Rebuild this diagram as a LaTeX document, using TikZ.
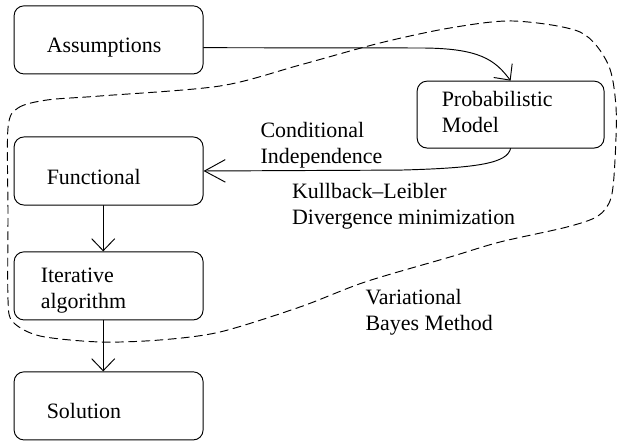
\documentclass[tikz,border=0pt]{standalone}
\usepackage{fontspec}
\setmainfont{Liberation Serif}
\usetikzlibrary{arrows.meta}

\begin{document}
\begin{tikzpicture}[line cap=round,line join=round,
  >={Straight Barb[length=0.4cm,width=0.77cm]},x=1.0cm,y=1.0cm,
  line width=0.9pt,font=\fontsize{20.8}{24.7}\selectfont,
  box/.style={draw,rounded corners=0.33cm,minimum width=6.3cm,
    minimum height=2.27cm,align=left},
  oneline/.style={text height=0.87cm,text depth=0pt},
  lbl/.style={anchor=north west,inner sep=0pt,align=left}]
  \useasboundingbox (0,0) rectangle (20.6,14.7);
  % boxes
  \node[box,oneline,text width=4.12cm] (assump) at (3.62,13.37) {Assumptions};
  \node[box,minimum width=6.23cm,minimum height=2.23cm,text width=4.59cm,
    text height=0.5cm,text depth=1.02cm] (prob) at (17.02,10.88) {Probabilistic\\Model};
  \node[box,oneline,text width=4.12cm] (func) at (3.62,9.0) {Functional};
  \node[box,text width=4.52cm,text height=0.49cm,text depth=0.69cm]
    (iter) at (3.62,5.17) {Iterative\\algorithm};
  \node[box,oneline,text width=4.12cm] (sol) at (3.62,1.17) {Solution};
  % labels
  \node[lbl] (condind) at (8.67,10.64) {Conditional\\Independence};
  \node[lbl] (kldiv) at (9.72,8.62) {Kullback--Leibler\\Divergence minimization};
  \node[lbl] (vbm) at (12.17,5.07) {Variational\\Bayes Method};
  % arrows
  \draw[->] ([yshift=-0.26cm]assump.east) -- (14.0,13.1)
  .. controls (16.0,13.1) and (16.5,12.7) .. (prob.north);
  \draw[-{Straight Barb[length=0.69cm,width=0.75cm]}] (prob.south)
  .. controls (16.9,9.27) and (16.0,9.1) .. (13.33,9.03) -- (func.east);
  \draw[->] ([xshift=-0.18cm]func.south) -- ([xshift=-0.18cm]iter.north);
  \draw[->] ([xshift=-0.18cm]iter.south) -- ([xshift=-0.18cm]sol.north);
  % dashed region
  \draw[dash pattern=on 0.27cm off 0.17cm] plot[smooth cycle] coordinates {
    (0.267,10.433) (0.6,11.1) (1.567,11.367) (3.333,11.5) (7.333,11.833)
    (10.0,12.533) (12.667,13.267) (15.0,13.767) (17.1,14.0) (19.333,13.633)
    (20.267,12.567) (20.533,11.133) (20.5,9.367) (20.367,8.1) (19.933,7.5)
    (18.9,7.133) (16.667,6.633) (15.0,6.133) (12.167,5.3) (10.0,4.467)
    (7.333,3.633) (5.333,3.367) (3.333,3.3) (1.333,3.5) (0.433,3.967)
    (0.267,4.7) (0.267,7.567)};
\end{tikzpicture}
\end{document}
